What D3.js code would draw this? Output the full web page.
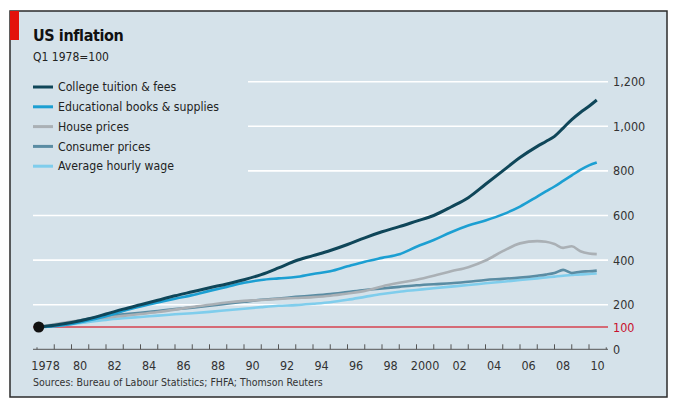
<!DOCTYPE html>
<html>
<head>
<meta charset="utf-8">
<script src="https://cdn.jsdelivr.net/npm/d3@7"></script>
<style>
  body { margin: 0; background: #fff; }
  text { font-family: "DejaVu Sans Condensed", "Liberation Sans Narrow", "Roboto", sans-serif; }
</style>
</head>
<body>
<script>
// values, index Q1 1978 = 100
const years = [1978.1, 1979, 1980, 1981, 1982, 1983, 1984, 1985, 1986, 1987, 1988, 1989,
  1990, 1991, 1992, 1993, 1994, 1995, 1996, 1997, 1998, 1999, 2000, 2001, 2002, 2003,
  2004, 2005, 2006, 2007, 2007.5, 2008, 2008.5, 2009, 2009.5, 2010, 2010.45];

const tuition = [100, 108, 120, 137, 158, 180, 200, 220, 240, 258, 276, 293,
  312, 335, 365, 397, 420, 443, 470, 500, 527, 550, 575, 600, 638, 680,
  740, 800, 860, 910, 932, 955, 992, 1030, 1062, 1090, 1118];

const books = [100, 104, 114, 130, 148, 172, 192, 210, 227, 243, 262, 280,
  298, 311, 318, 324, 338, 350, 372, 393, 410, 426, 460, 490, 525, 555,
  578, 605, 640, 685, 708, 730, 755, 780, 805, 825, 838];

const house = [100, 112, 124, 135, 142, 150, 158, 167, 178, 190, 200, 210,
  217, 221, 226, 230, 234, 240, 250, 262, 282, 298, 312, 330, 350, 368,
  398, 440, 475, 485, 482, 472, 455, 462, 440, 430, 427];

const consumer = [100, 108, 122, 137, 150, 157, 164, 172, 180, 187, 195, 204,
  213, 222, 228, 235, 241, 248, 257, 266, 273, 280, 287, 292, 296, 303,
  311, 316, 322, 330, 335, 342, 356, 342, 348, 350, 353];

const wage = [100, 105, 113, 123, 132, 139, 145, 151, 157, 162, 168, 175,
  182, 189, 195, 198, 204, 211, 222, 235, 248, 258, 266, 274, 281, 288,
  296, 303, 311, 318, 322, 326, 330, 333, 336, 338, 340];

const seriesNames = ["College tuition & fees", "Educational books & supplies",
  "House prices", "Consumer prices", "Average hourly wage"];
const seriesColors = ["#0f4659", "#1c9fd2", "#aab0b5", "#5a8ca3", "#7fcdec"];
const seriesWidths = [3, 2.6, 2.6, 2.6, 2.6];

const yTicks = [0, 100, 200, 400, 600, 800, 1000, 1200];
const xLabels = ["1978", "80", "82", "84", "86", "88", "90", "92", "94", "96",
  "98", "2000", "02", "04", "06", "08", "10"];

const W = 681, H = 406;

const svg = d3.select("body").append("svg")
  .attr("width", W)
  .attr("height", H);

// panel
svg.append("rect")
  .attr("x", 10).attr("y", 11)
  .attr("width", 657).attr("height", 386)
  .attr("fill", "#d5e2ea")
  .attr("stroke", "#2b2b2b")
  .attr("stroke-width", 1.5);

svg.append("rect")
  .attr("x", 10).attr("y", 11)
  .attr("width", 9).attr("height", 29)
  .attr("fill", "#e3120b");

const x = d3.scaleLinear().domain([1978, 2011]).range([37, 606.25]);
const y = d3.scaleLinear().domain([0, 1200]).range([349.3, 81.7]);

// gridlines (top ones cut short by the legend)
svg.selectAll(".grid")
  .data(yTicks.filter(d => d >= 200))
  .enter()
    .append("line")
      .attr("x1", d => d >= 800 ? 248 : 33)
      .attr("x2", 608)
      .attr("y1", d => y(d))
      .attr("y2", d => y(d))
      .attr("stroke", "#ffffff")
      .attr("stroke-width", 1.6);

svg.selectAll(".ylab")
  .data(yTicks)
  .enter()
    .append("text")
      .attr("x", 613)
      .attr("y", d => y(d))
      .attr("dy", "0.36em")
      .attr("font-size", "12.5px")
      .attr("fill", d => d == 100 ? "#c8102e" : "#333")
      .text(d => d3.format(",")(d));

// x axis
svg.append("line")
  .attr("x1", 33).attr("x2", 608)
  .attr("y1", y(0)).attr("y2", y(0))
  .attr("stroke", "#555")
  .attr("stroke-width", 1);

svg.selectAll(".tick")
  .data(d3.range(1978, 2012))
  .enter()
    .append("line")
      .attr("x1", d => x(d))
      .attr("x2", d => x(d))
      .attr("y1", y(0))
      .attr("y2", d => (d == 1978 || d == 2011) ? y(0) - 2 : y(0) - 5)
      .attr("stroke", "#555")
      .attr("stroke-width", 1);

svg.selectAll(".xlab")
  .data(xLabels)
  .enter()
    .append("text")
      .attr("x", (d, i) => x(1978 + i * 2 + 0.5))
      .attr("y", 370)
      .attr("text-anchor", "middle")
      .attr("font-size", "12.5px")
      .attr("fill", "#333")
      .text(d => d);

// red 100 line
svg.append("line")
  .attr("x1", 33).attr("x2", 608)
  .attr("y1", y(100)).attr("y2", y(100))
  .attr("stroke", "#d4424f")
  .attr("stroke-width", 1.6);

// series, drawn from back to front
const allSeries = [tuition, books, house, consumer, wage];
const line = d3.line()
  .x((d, i) => x(years[i]))
  .y(d => y(d))
  .curve(d3.curveMonotoneX);

const drawOrder = [4, 3, 2, 1, 0];
svg.selectAll(".series")
  .data(drawOrder)
  .enter()
    .append("path")
      .attr("d", k => line(allSeries[k]))
      .attr("fill", "none")
      .attr("stroke", k => seriesColors[k])
      .attr("stroke-width", k => seriesWidths[k])
      .attr("stroke-linejoin", "round");

svg.append("circle")
  .attr("cx", x(years[0]))
  .attr("cy", y(100))
  .attr("r", 5.5)
  .attr("fill", "#111");

// legend
const legend = svg.selectAll(".legend")
  .data(seriesNames)
  .enter()
    .append("g")
      .attr("transform", (d, i) => "translate(33," + (87 + i * 19.8) + ")");

legend.append("line")
  .attr("x1", 0).attr("x2", 20)
  .attr("stroke", (d, i) => seriesColors[i])
  .attr("stroke-width", 3);

legend.append("text")
  .attr("x", 25)
  .attr("dy", "0.35em")
  .attr("font-size", "12.2px")
  .attr("fill", "#222")
  .text(d => d);

// titles
svg.append("text")
  .attr("x", 33).attr("y", 41)
  .attr("font-size", "16px")
  .attr("font-weight", "bold")
  .attr("letter-spacing", "-0.4px")
  .attr("fill", "#111")
  .text("US inflation");

svg.append("text")
  .attr("x", 33).attr("y", 61)
  .attr("font-size", "12px")
  .attr("fill", "#222")
  .text("Q1 1978=100");

svg.append("text")
  .attr("x", 33).attr("y", 386)
  .attr("font-size", "10.5px")
  .attr("fill", "#333")
  .text("Sources: Bureau of Labour Statistics; FHFA; Thomson Reuters");
</script>
</body>
</html>
